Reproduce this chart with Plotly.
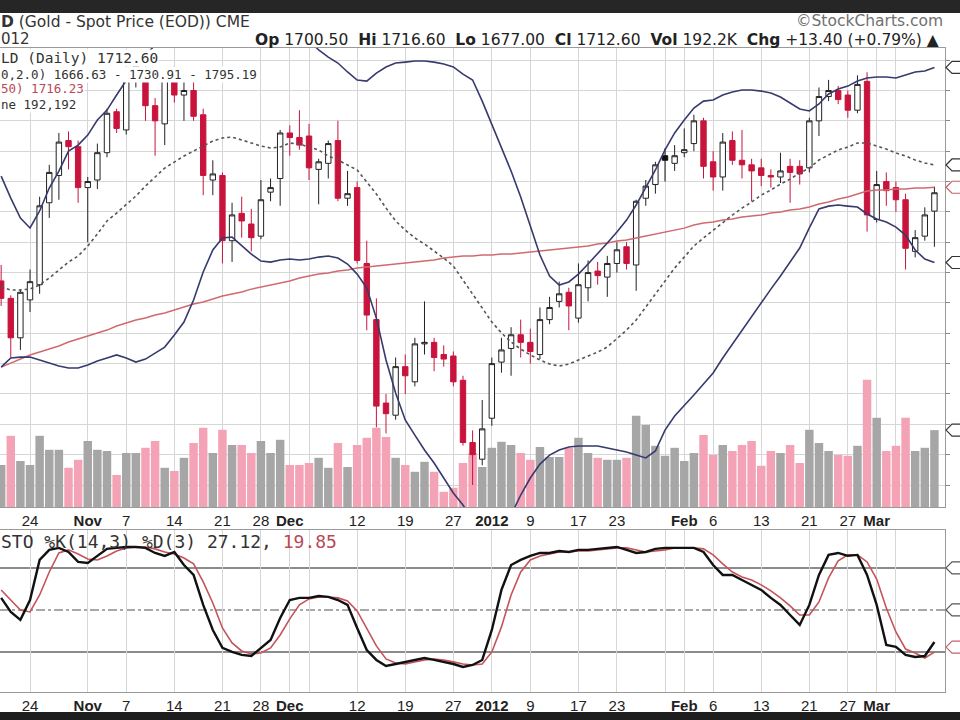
import plotly.graph_objects as go
import pandas as pd

# ---------------- data ----------------
holidays = ["2011-11-24", "2011-12-26", "2012-01-02", "2012-01-16", "2012-02-20"]
dates = [d.strftime("%Y-%m-%d") for d in pd.bdate_range("2011-10-19", "2012-03-09")
         if d.strftime("%Y-%m-%d") not in holidays]

open_ = [1654.5, 1643, 1617, 1642, 1652, 1706, 1724, 1747, 1743, 1716,
         1721, 1739, 1766, 1754, 1790, 1793, 1770, 1758, 1790, 1777,
         1780, 1764, 1721, 1724, 1681, 1699, 1692, 1684, 1713, 1722,
         1752, 1749, 1750, 1728, 1732, 1747, 1709, 1716, 1666, 1629,
         1574, 1566, 1598, 1588, 1613, 1614, 1606, 1605, 1589, 1548,
         1537, 1564, 1601, 1610, 1619, 1614, 1606, 1629, 1641, 1647,
         1630, 1650, 1661, 1657, 1666, 1677, 1665, 1709, 1718, 1737,
         1732, 1739, 1745, 1760, 1733, 1723, 1747, 1734, 1731, 1729,
         1724, 1723, 1730, 1730, 1729, 1760, 1776, 1780, 1777, 1767,
         1786, 1695, 1720, 1716, 1708, 1674, 1684, 1700.5]
high = [1665, 1645, 1649, 1662, 1710, 1731, 1752, 1753, 1747, 1723,
        1745, 1768, 1768, 1797, 1802, 1796, 1775, 1793, 1796, 1790,
        1786, 1768, 1734, 1726, 1706, 1710, 1702, 1721, 1722, 1754,
        1757, 1767, 1758, 1735, 1747, 1760, 1727, 1720, 1681, 1643,
        1580, 1604, 1606, 1617, 1641, 1617, 1612, 1608, 1592, 1556,
        1576, 1604, 1617, 1624, 1629, 1623, 1637, 1644, 1654, 1650,
        1666, 1668, 1667, 1671, 1680, 1680, 1708, 1721, 1733, 1742,
        1744, 1755, 1764, 1762, 1740, 1752, 1753, 1754, 1735, 1735,
        1728, 1739, 1735, 1734, 1762, 1782, 1787, 1783, 1780, 1790,
        1792, 1727, 1726, 1720, 1712, 1688, 1703, 1716.6]
low = [1638, 1604, 1609, 1634, 1646, 1696, 1708, 1728, 1706, 1680,
       1715, 1736, 1752, 1751, 1782, 1760, 1737, 1744, 1772, 1760,
       1760, 1711, 1711, 1666, 1667, 1683, 1674, 1682, 1707, 1704,
       1737, 1741, 1721, 1705, 1722, 1707, 1704, 1666, 1622, 1558,
       1554, 1563, 1580, 1585, 1606, 1595, 1598, 1585, 1546, 1520,
       1533, 1559, 1594, 1592, 1604, 1600, 1603, 1626, 1637, 1622,
       1627, 1641, 1652, 1644, 1660, 1662, 1648, 1704, 1712, 1720,
       1727, 1736, 1740, 1722, 1714, 1714, 1731, 1722, 1707, 1717,
       1716, 1719, 1706, 1718, 1726, 1750, 1773, 1771, 1762, 1765,
       1687, 1693, 1704, 1700, 1662, 1670, 1681, 1677]
close = [1643, 1617, 1647, 1654, 1704, 1726, 1746, 1743, 1716, 1720,
         1739, 1765, 1755, 1795, 1796, 1770, 1760, 1788, 1777, 1780,
         1763, 1724, 1725, 1681, 1698, 1694, 1683, 1708, 1716, 1752,
         1749, 1744, 1729, 1733, 1745, 1709, 1712, 1668, 1632, 1572,
         1567, 1598, 1592, 1613, 1614, 1604, 1603, 1588, 1548, 1540,
         1557, 1600, 1609, 1619, 1614, 1608, 1629, 1637, 1646, 1638,
         1652, 1660, 1658, 1666, 1675, 1666, 1707, 1717, 1731, 1734,
         1737, 1741, 1760, 1730, 1723, 1746, 1734, 1731, 1727, 1724,
         1723, 1727, 1726, 1725, 1760, 1776, 1780, 1774, 1767, 1784,
         1698, 1718, 1714, 1708, 1676, 1683, 1698, 1712.6]
bb_upper = [1723.6, 1709.1, 1695.9, 1689.4, 1700.6, 1715.7, 1726.9, 1740.1, 1744.0, 1750.6,
            1760.5, 1767.1, 1777.0, 1786.2, 1796.1, 1803.4, 1809.9, 1814.6, 1818.5, 1821.1,
            1823.1, 1825.1, 1826.4, 1827.7, 1827.7, 1827.7, 1827.1, 1826.4, 1825.1, 1823.1,
            1821.1, 1817.9, 1813.2, 1806.7, 1802.0, 1798.1, 1792.2, 1786.9, 1786.2, 1791.5,
            1795.5, 1798.1, 1798.7, 1799.4, 1799.4, 1798.7, 1797.4, 1795.5, 1790.8, 1786.9,
            1773.0, 1757.9, 1742.7, 1726.9, 1709.8, 1691.3, 1671.6, 1657.7, 1651.8, 1653.8,
            1659.0, 1665.6, 1672.2, 1679.5, 1686.7, 1694.6, 1704.5, 1715.7, 1727.6, 1740.8,
            1752.0, 1760.5, 1768.4, 1773.0, 1773.7, 1777.0, 1779.0, 1780.3, 1780.3, 1779.6,
            1778.3, 1775.7, 1771.7, 1767.8, 1766.5, 1771.1, 1777.7, 1781.0, 1782.9, 1786.2,
            1788.2, 1788.9, 1788.9, 1788.2, 1790.2, 1792.2, 1792.8, 1795.19]
bb_mid = [1650.5, 1648.5, 1648.5, 1649.2, 1651.8, 1656.4, 1661.7, 1666.9, 1670.9, 1677.5,
          1685.4, 1694.0, 1699.2, 1704.5, 1710.4, 1717.0, 1723.0, 1728.9, 1732.8, 1736.8,
          1740.1, 1743.4, 1746.7, 1748.7, 1749.3, 1747.4, 1745.4, 1743.4, 1742.1, 1742.7,
          1745.4, 1744.7, 1742.7, 1740.8, 1736.8, 1734.2, 1730.9, 1727.6, 1719.7, 1711.8,
          1702.5, 1694.0, 1688.0, 1682.8, 1678.8, 1674.2, 1669.6, 1664.3, 1655.1, 1646.5,
          1636.6, 1627.4, 1620.2, 1614.2, 1609.6, 1605.7, 1602.4, 1599.7, 1598.4, 1599.7,
          1602.4, 1605.0, 1607.6, 1610.9, 1616.2, 1622.1, 1628.7, 1637.3, 1646.5, 1655.1,
          1663.0, 1670.2, 1677.5, 1682.8, 1688.0, 1693.3, 1697.9, 1702.5, 1706.5, 1711.1,
          1714.4, 1718.3, 1721.6, 1725.6, 1728.9, 1734.2, 1737.5, 1740.8, 1742.7, 1745.4,
          1745.4, 1743.4, 1741.4, 1738.8, 1736.8, 1734.2, 1732.2, 1730.91]
bb_lower = [1597.7, 1603.7, 1604.3, 1604.3, 1602.4, 1600.4, 1598.4, 1597.1, 1597.1, 1599.1,
            1601.7, 1603.7, 1605.7, 1603.7, 1601.0, 1603.0, 1607.0, 1610.9, 1618.8, 1627.4,
            1641.9, 1660.4, 1674.9, 1682.8, 1683.4, 1678.1, 1672.2, 1667.6, 1666.9, 1668.3,
            1668.9, 1668.3, 1668.9, 1670.2, 1670.9, 1669.6, 1665.6, 1659.0, 1649.8, 1630.0,
            1602.4, 1580.6, 1562.9, 1552.9, 1543.1, 1534.5, 1524.6, 1514.7, 1506.8, 1496.9,
            1490.3, 1487.0, 1490.3, 1500.2, 1513.4, 1524.6, 1533.8, 1539.7, 1543.1, 1545.0,
            1545.7, 1545.7, 1545.7, 1544.4, 1543.1, 1541.7, 1539.7, 1537.8, 1542.4, 1556.2,
            1565.5, 1572.1, 1579.3, 1586.5, 1593.8, 1603.7, 1612.9, 1622.1, 1631.4, 1640.6,
            1649.1, 1657.7, 1666.9, 1676.2, 1689.4, 1701.9, 1703.8, 1704.5, 1703.8, 1703.2,
            1698.6, 1695.3, 1693.3, 1690.0, 1684.7, 1674.9, 1668.9, 1666.63]
ma50 = [1597.7, 1600.4, 1603.0, 1605.7, 1607.6, 1609.6, 1611.6, 1614.2, 1616.2, 1618.2,
        1620.2, 1622.1, 1624.8, 1626.8, 1628.7, 1630.0, 1632.0, 1633.3, 1635.3, 1637.3,
        1639.3, 1640.6, 1642.6, 1644.5, 1645.9, 1647.2, 1649.1, 1650.5, 1651.8, 1653.1,
        1654.4, 1656.4, 1657.7, 1659.0, 1659.7, 1661.0, 1661.7, 1663.0, 1663.6, 1664.3,
        1665.0, 1665.6, 1666.3, 1666.9, 1667.6, 1668.3, 1669.6, 1670.2, 1670.9, 1670.9,
        1671.6, 1671.6, 1672.2, 1672.2, 1672.9, 1673.5, 1674.2, 1674.9, 1675.5, 1676.2,
        1676.8, 1677.5, 1678.8, 1679.5, 1680.8, 1681.4, 1682.8, 1684.1, 1685.4, 1686.7,
        1688.0, 1689.3, 1691.3, 1692.6, 1693.3, 1694.6, 1695.3, 1696.6, 1697.3, 1697.9,
        1699.2, 1699.9, 1701.2, 1701.9, 1703.2, 1705.2, 1706.5, 1708.5, 1709.8, 1711.8,
        1713.7, 1714.4, 1714.4, 1715.1, 1715.1, 1715.7, 1715.7, 1716.23]
volume_k = [105, 178, 115, 105, 178, 143, 143, 98, 118, 165,
            143, 140, 80, 135, 135, 148, 165, 98, 90, 123,
            160, 198, 135, 193, 155, 155, 135, 165, 135, 168,
            105, 105, 110, 123, 98, 160, 100, 155, 173, 198,
            175, 123, 105, 88, 113, 88, 38, 48, 110, 135,
            100, 148, 163, 155, 135, 118, 150, 125, 125, 148,
            173, 135, 123, 118, 118, 123, 228, 205, 153, 128,
            148, 115, 135, 180, 130, 155, 140, 155, 165, 103,
            140, 135, 155, 110, 193, 160, 140, 130, 128, 153,
            318, 223, 140, 153, 223, 140, 148, 192.2]
sto_k = [58.6, 48.6, 42.9, 57.1, 85.7, 92.9, 94.3, 91.4, 84.3, 83.6,
         88.6, 93.6, 94.3, 95.0, 95.0, 94.3, 90.7, 88.6, 91.4, 82.1,
         75.0, 53.6, 35.7, 22.9, 20.0, 17.9, 17.1, 22.9, 28.6, 44.3,
         57.1, 58.6, 58.6, 60.0, 59.3, 57.1, 53.6, 37.1, 21.4, 14.3,
         10.0, 11.4, 12.9, 14.3, 15.7, 14.3, 12.9, 11.4, 9.3, 10.7,
         14.3, 35.7, 64.3, 82.1, 85.7, 88.6, 90.7, 90.7, 92.1, 91.4,
         92.9, 92.9, 93.6, 94.3, 95.0, 92.9, 90.7, 91.4, 93.6, 94.3,
         94.3, 94.3, 94.3, 91.4, 82.1, 75.0, 75.0, 71.4, 67.9, 64.3,
         58.6, 53.6, 46.4, 39.3, 53.6, 75.0, 89.3, 90.7, 88.6, 89.3,
         75.0, 53.6, 25.0, 23.6, 17.9, 16.4, 17.1, 27.12]
sto_d = [64.3, 57.1, 50.0, 48.6, 60.7, 77.1, 90.7, 92.9, 90.0, 86.4,
         85.7, 88.6, 92.1, 94.3, 95.0, 95.0, 93.6, 91.4, 90.0, 87.1,
         82.9, 70.0, 55.0, 37.1, 26.4, 20.7, 18.6, 19.3, 22.9, 32.1,
         43.6, 53.6, 57.9, 59.3, 59.3, 58.6, 56.4, 49.3, 37.1, 24.3,
         15.0, 12.1, 11.4, 12.9, 14.3, 15.0, 14.3, 12.9, 11.4, 10.7,
         11.4, 20.0, 37.9, 60.7, 77.1, 85.7, 88.6, 90.0, 91.4, 91.4,
         92.1, 92.1, 92.9, 93.6, 94.3, 94.3, 92.9, 91.4, 92.1, 92.9,
         94.3, 94.3, 94.3, 93.6, 89.3, 82.9, 77.1, 73.6, 71.4, 67.9,
         63.6, 58.6, 52.9, 46.4, 46.4, 55.7, 72.9, 85.0, 89.3, 89.3,
         84.3, 72.1, 51.4, 34.3, 22.1, 19.3, 15.7, 19.85]

tick_dates = ["2011-10-24", "2011-11-01", "2011-11-07", "2011-11-14", "2011-11-21",
              "2011-11-28", "2011-12-01", "2011-12-05", "2011-12-12", "2011-12-19",
              "2011-12-27", "2012-01-03", "2012-01-09", "2012-01-17", "2012-01-23",
              "2012-01-30", "2012-02-01", "2012-02-06", "2012-02-13", "2012-02-21",
              "2012-02-27", "2012-03-01", "2012-03-05"]
tick_text = ["24", "<b>Nov</b>", "7", "14", "21", "28", "<b>Dec</b>", "", "12", "19",
             "27", "<b>2012</b>", "9", "17", "23", "", "<b>Feb</b>", "6", "13", "21",
             "27", "<b>Mar</b>", ""]

# last values marked by tags at the right edge: (value, axis)
price_tags = [(1795.19, "y3"), (1730.91, "y3"), (1716.23, "y3"), (1666.63, "y3")]
volume_tag = (192.2, "y")
sto_tags = [(80, "y2"), (50, "y2"), (23.5, "y2")]

# ---------------- layout helpers ----------------
W, H = 960, 720
ML, MR, MT, MB = 0, 15, 48, 28
PH = H - MT - MB
PW = W - ML - MR


def py(y):
    return (H - MB - y) / PH


def px(x):
    return (x - ML) / PW


RED = "#c8143c"
PINK = "#f3a3b5"
GRAY = "#a6a6a6"
NAVY = "#363a6c"
GRID = "#d6d6d6"

n = len(dates)
vol_colors = [GRAY if i == 0 or close[i] >= close[i - 1] else PINK for i in range(n)]
special = [i for i in range(n) if i > 0 and close[i] < open_[i] and close[i] >= close[i - 1]]
normal = [i for i in range(n) if i not in special]

fig = go.Figure()

# volume (base axis, drawn underneath)
fig.add_trace(go.Bar(x=dates, y=volume_k, marker=dict(color=vol_colors, line=dict(width=0)),
                     xaxis="x", yaxis="y", hoverinfo="skip"))

# price overlays
fig.add_trace(go.Scatter(x=dates, y=ma50, mode="lines", line=dict(color="#cf6a70", width=1.5),
                         xaxis="x", yaxis="y3"))
fig.add_trace(go.Scatter(x=dates, y=bb_mid, mode="lines",
                         line=dict(color="#555555", width=1.6, dash="dot"), xaxis="x", yaxis="y3"))
fig.add_trace(go.Scatter(x=dates, y=bb_upper, mode="lines", line=dict(color=NAVY, width=1.6),
                         xaxis="x", yaxis="y3"))
fig.add_trace(go.Scatter(x=dates, y=bb_lower, mode="lines", line=dict(color=NAVY, width=1.6),
                         xaxis="x", yaxis="y3"))


def sub(arr, idx):
    return [arr[i] for i in idx]


fig.add_trace(go.Candlestick(
    x=sub(dates, normal), open=sub(open_, normal), high=sub(high, normal),
    low=sub(low, normal), close=sub(close, normal),
    increasing=dict(line=dict(color="#222222", width=1), fillcolor="white"),
    decreasing=dict(line=dict(color=RED, width=1), fillcolor=RED),
    whiskerwidth=0, xaxis="x", yaxis="y3"))
fig.add_trace(go.Candlestick(
    x=sub(dates, special), open=sub(open_, special), high=sub(high, special),
    low=sub(low, special), close=sub(close, special),
    increasing=dict(line=dict(color="#222222", width=1), fillcolor="white"),
    decreasing=dict(line=dict(color="#111111", width=1), fillcolor="#111111"),
    whiskerwidth=0, xaxis="x", yaxis="y3"))

# stochastic
fig.add_trace(go.Scatter(x=dates, y=sto_d, mode="lines", line=dict(color="#c4545a", width=1.6),
                         xaxis="x2", yaxis="y2"))
fig.add_trace(go.Scatter(x=dates, y=sto_k, mode="lines", line=dict(color="#111111", width=2.4),
                         xaxis="x2", yaxis="y2"))

xcommon = dict(type="category", categoryorder="array", categoryarray=dates,
               range=[-0.12, 98.1], tickmode="array", tickvals=tick_dates, ticktext=tick_text,
               showgrid=True, gridcolor=GRID, gridwidth=1, showline=True, linecolor="#9a9a9a",
               mirror=True, ticks="", tickfont=dict(family="Liberation Sans, Arial", size=15,
                                                    color="#222"),
               rangeslider=dict(visible=False), automargin=False, zeroline=False)

PRICE_RANGE = [1505.5, 1808.0]
VOL_RANGE = [0, 1147.5]
STO_RANGE = [-8.6, 107.1]

fig.update_layout(
    width=W, height=H, margin=dict(l=ML, r=MR, t=MT, b=MB),
    paper_bgcolor="white", plot_bgcolor="white", showlegend=False, bargap=0.12, boxgap=0.2,
    xaxis=dict(**xcommon, anchor="y"),
    xaxis2=dict(**xcommon, anchor="y2", matches="x"),
    yaxis=dict(domain=[py(507), 1], range=VOL_RANGE, showgrid=False, showticklabels=False,
               zeroline=False, fixedrange=True),
    yaxis3=dict(overlaying="y", range=PRICE_RANGE, side="right", showgrid=True,
                gridcolor=GRID, tick0=1500, dtick=20, showticklabels=False, ticks="outside",
                ticklen=4, tickcolor="#888", showline=True, linecolor="#9a9a9a", mirror=True,
                zeroline=False, automargin=False),
    yaxis2=dict(domain=[0, py(530)], range=STO_RANGE, side="right", showgrid=False,
                showticklabels=False, ticks="", showline=True, linecolor="#9a9a9a",
                mirror=True, zeroline=False, automargin=False),
)

# stochastic reference lines
for lvl, dash, wd in [(80, "solid", 2), (50, "dashdot", 1.6), (20, "solid", 2)]:
    fig.add_shape(type="line", xref="x2 domain", x0=0, x1=1, yref="y2", y0=lvl, y1=lvl,
                  line=dict(color="#8c8c8c", width=wd, dash=dash), layer="below")

# dark frame bars (top and bottom of screenshot)
fig.add_shape(type="rect", xref="paper", yref="paper", x0=-0.01, x1=px(965), y0=py(13),
              y1=py(-2), fillcolor="#262626", line=dict(width=0))
fig.add_shape(type="rect", xref="paper", yref="paper", x0=-0.01, x1=px(965), y0=py(722),
              y1=py(712), fillcolor="#1e1e1e", line=dict(width=0))


# value tags at the right edge (only their left part is visible)
def tag(val, yref, rng, color):
    half = 6 * (rng[1] - rng[0]) / (PH * (1 - py(507)) if yref in ("y", "y3") else PH * py(530))
    x0, x1, x2 = px(946), px(952), px(962)
    path = (f"M {x0},{val} L {x1},{val + half} L {x2},{val + half} "
            f"L {x2},{val - half} L {x1},{val - half} Z")
    fig.add_shape(type="path", xref="paper", yref=yref, path=path,
                  line=dict(color=color, width=1.2), fillcolor="white")


for v, yr in price_tags:
    tag(v, yr, PRICE_RANGE, "#c86068" if v == 1716.23 else "#333")
tag(volume_tag[0], volume_tag[1], VOL_RANGE, "#333")
for v, yr in sto_tags:
    tag(v, yr, STO_RANGE, "#c86068" if v < 30 else "#555")

HF = "Liberation Sans, Arial"
DF = "DejaVu Sans, Verdana"
MF = "DejaVu Sans Mono, monospace"
ann = []
ann.append(dict(x=px(0), y=py(22), text="<b>D</b> (Gold - Spot Price (EOD)) CME",
                font=dict(family=DF, size=15.5, color="#333")))
ann.append(dict(x=px(0), y=py(39.5), text="012", font=dict(family=DF, size=15, color="#333")))
ann.append(dict(x=px(944), y=py(21), xanchor="right", text="©StockCharts.com",
                font=dict(family=DF, size=15.5, color="#707070")))
ann.append(dict(x=px(940), y=py(40), xanchor="right",
                text="<b>Op</b> 1700.50  <b>Hi</b> 1716.60  <b>Lo</b> 1677.00  "
                     "<b>Cl</b> 1712.60  <b>Vol</b> 192.2K  <b>Chg</b> +13.40 (+0.79%) ▲",
                font=dict(family=DF, size=15.5, color="#222")))
# in-panel legend (opaque)
ann.append(dict(x=px(0), y=py(58), text="LD (Daily) 1712.60", bgcolor="white",
                font=dict(family=MF, size=14.5, color="#333")))
ann.append(dict(x=px(0), y=py(74), text="0,2.0) 1666.63 - 1730.91 - 1795.19", bgcolor="white",
                font=dict(family=MF, size=12.5, color="#333")))
ann.append(dict(x=px(0), y=py(89), text="50) 1716.23", bgcolor="white",
                font=dict(family=MF, size=12.5, color="#b84a55")))
ann.append(dict(x=px(0), y=py(104), text="ne 192,192", bgcolor="white",
                font=dict(family=MF, size=12.5, color="#333")))
ann.append(dict(x=px(0), y=py(541),
                text="STO %K(14,3) %D(3) 27.12, <span style='color:#b84a55'>19.85</span>",
                font=dict(family=MF, size=18, color="#333")))
for a in ann:
    a.update(xref="paper", yref="paper", showarrow=False, yanchor="middle",
             xanchor=a.get("xanchor", "left"), borderpad=0)
    fig.add_annotation(**a)

fig.write_html("out.html")
